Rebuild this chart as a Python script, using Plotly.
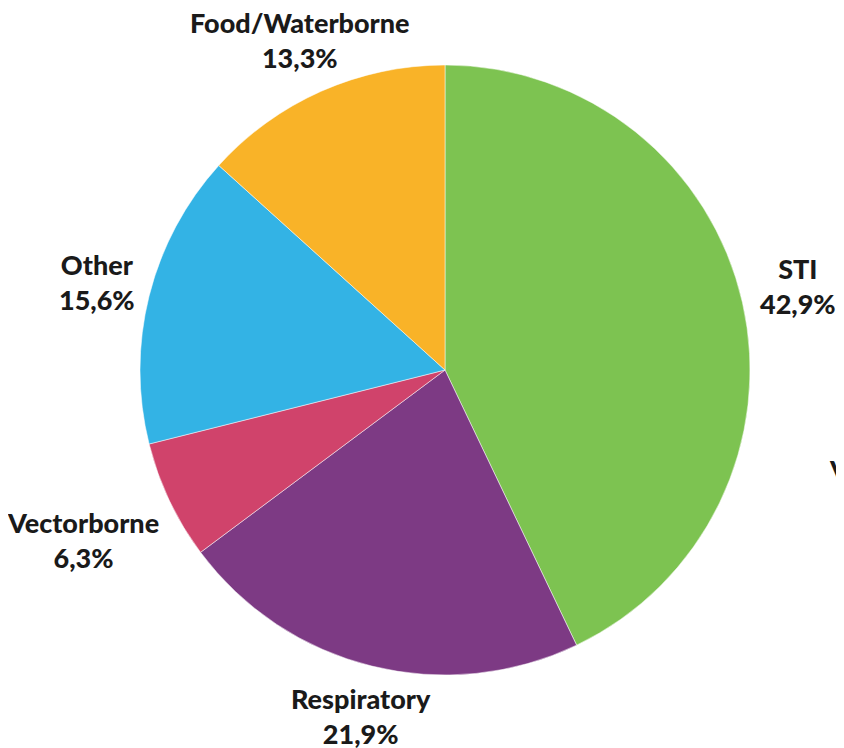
import plotly.graph_objects as go

categories = ["STI", "Respiratory", "Vectorborne", "Other", "Food/Waterborne"]
values = [42.9, 21.9, 6.3, 15.6, 13.3]
value_labels = ["42,9%", "21,9%", "6,3%", "15,6%", "13,3%"]
colors = ["#7DC351", "#7D3A84", "#D0436B", "#33B3E5", "#F9B328"]

W, H = 844, 748
OFF = 8  # page body margin offset
cx, cy, r = 445 - OFF, 370 - OFF, 305

fig = go.Figure(go.Pie(
    labels=categories,
    values=values,
    sort=False,
    direction="clockwise",
    rotation=0,
    marker=dict(colors=colors, line=dict(color="white", width=0.5)),
    textinfo="none",
    hoverinfo="label+percent",
    showlegend=False,
    domain=dict(x=[(cx - r) / W, (cx + r) / W], y=[1 - (cy + r) / H, 1 - (cy - r) / H]),
))

# label centre positions (screen pixels in reference)
label_pos = {
    "STI": (798, 286),
    "Respiratory": (361, 716),
    "Vectorborne": (83, 540),
    "Other": (97, 282),
    "Food/Waterborne": (300, 40),
}

font = dict(family="Lato, sans-serif", size=27, color="#1a1a1a", weight=900)
for cat, lab in zip(categories, value_labels):
    px, py = label_pos[cat]
    px, py = px - OFF, py - OFF
    fig.add_annotation(
        x=px / W, y=1 - py / H, xref="paper", yref="paper",
        text=f"{cat}<br>{lab}", showarrow=False, font=font,
        xanchor="center", yanchor="middle", align="center",
    )

# partial label at right edge (cut off in the reference)
fig.add_annotation(x=1.0, y=1 - (469 - OFF) / H, xref="paper", yref="paper",
                   text="V", showarrow=False, font=font,
                   xanchor="right", yanchor="middle", borderpad=0, xshift=-1)

fig.update_layout(
    width=W, height=H,
    margin=dict(l=0, r=0, t=0, b=0),
    paper_bgcolor="white", plot_bgcolor="white",
)

fig.write_html("out.html")
